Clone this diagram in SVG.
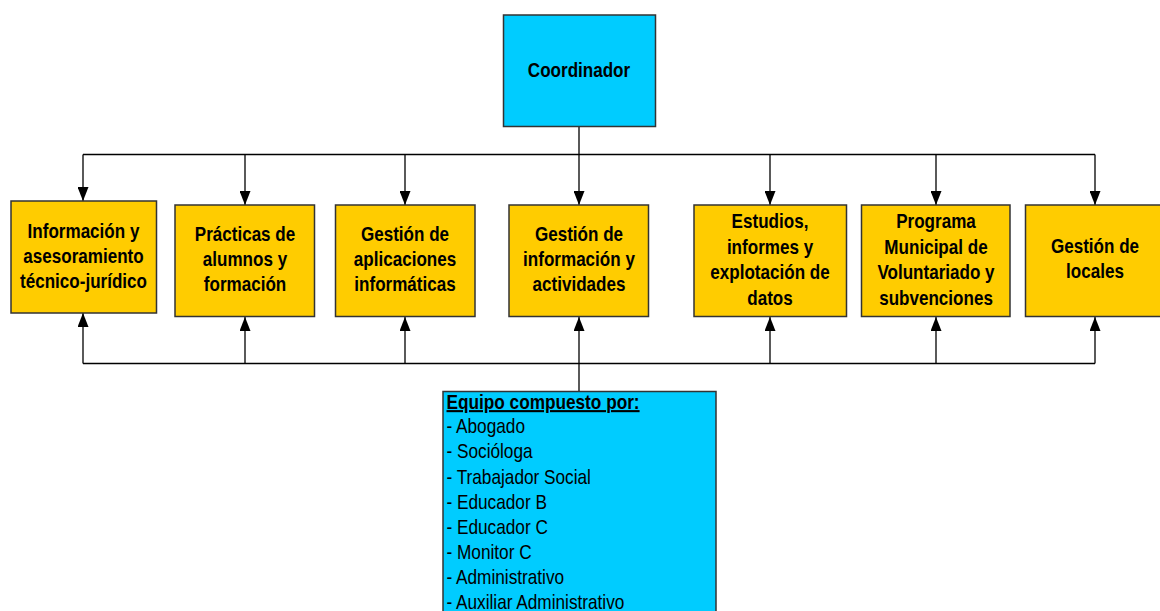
<svg xmlns="http://www.w3.org/2000/svg" width="1160" height="611" viewBox="0 0 1160 611">
<style>
.box{fill:#FFCC00;stroke:#333;stroke-width:1.5}
.cyan{fill:#00CCFF;stroke:#333;stroke-width:1.5}
.t{font-family:"Liberation Sans",Arial,sans-serif;font-weight:bold;font-size:20.8px;fill:#000;text-anchor:middle}
.r{font-family:"Liberation Sans",Arial,sans-serif;font-size:21px;fill:#000}
.c{fill:none;stroke:#000;stroke-width:1.3}
</style>
<defs>
<marker id="ah" viewBox="0 0 14 11" refX="14" refY="5.5" markerWidth="14" markerHeight="11" markerUnits="userSpaceOnUse" orient="auto">
<path d="M0,0 L14,5.5 L0,11 Z" fill="#000"/>
</marker>
</defs>
<rect width="1160" height="611" fill="#fff"/>
<g id="connectors">
<path class="c" d="M579,127 V154.5 M83,154.5 H1095"/>
<path class="c" d="M83,154.5 V201" marker-end="url(#ah)"/>
<path class="c" d="M245,154.5 V205" marker-end="url(#ah)"/>
<path class="c" d="M405,154.5 V205" marker-end="url(#ah)"/>
<path class="c" d="M579,154.5 V205" marker-end="url(#ah)"/>
<path class="c" d="M770,154.5 V205" marker-end="url(#ah)"/>
<path class="c" d="M936,154.5 V205" marker-end="url(#ah)"/>
<path class="c" d="M1095,154.5 V205" marker-end="url(#ah)"/>
<path class="c" d="M83,363.5 H1095"/>
<path class="c" d="M83,363.5 V313" marker-end="url(#ah)"/>
<path class="c" d="M245,363.5 V317" marker-end="url(#ah)"/>
<path class="c" d="M405,363.5 V317" marker-end="url(#ah)"/>
<path class="c" d="M579,391 V317" marker-end="url(#ah)"/>
<path class="c" d="M770,363.5 V317" marker-end="url(#ah)"/>
<path class="c" d="M936,363.5 V317" marker-end="url(#ah)"/>
<path class="c" d="M1095,363.5 V317" marker-end="url(#ah)"/>
</g>
<g id="coordinador">
<rect class="cyan" x="503.5" y="15" width="152" height="111.5"/>
<g transform="translate(579,0) scale(0.82,1)"><text class="t" x="0" y="77">Coordinador</text></g>
</g>
<g id="n1">
<rect class="box" x="11" y="201" width="145.5" height="112"/>
<g transform="translate(83.5,0) scale(0.82,1)">
<text class="t" x="0" y="238">Información y</text>
<text class="t" x="0" y="263">asesoramiento</text>
<text class="t" x="0" y="288">técnico-jurídico</text>
</g>
</g>
<g id="n2">
<rect class="box" x="175" y="205" width="139.5" height="111.5"/>
<g transform="translate(245,0) scale(0.82,1)">
<text class="t" x="0" y="241.5">Prácticas de</text>
<text class="t" x="0" y="266.5">alumnos y</text>
<text class="t" x="0" y="291.5">formación</text>
</g>
</g>
<g id="n3">
<rect class="box" x="335.5" y="205" width="139.5" height="111.5"/>
<g transform="translate(405,0) scale(0.82,1)">
<text class="t" x="0" y="241.5">Gestión de</text>
<text class="t" x="0" y="266.5">aplicaciones</text>
<text class="t" x="0" y="291.5">informáticas</text>
</g>
</g>
<g id="n4">
<rect class="box" x="509" y="205" width="139.5" height="111.5"/>
<g transform="translate(579,0) scale(0.82,1)">
<text class="t" x="0" y="241.5">Gestión de</text>
<text class="t" x="0" y="266.5">información y</text>
<text class="t" x="0" y="291.5">actividades</text>
</g>
</g>
<g id="n5">
<rect class="box" x="694" y="205" width="152.5" height="111.5"/>
<g transform="translate(770,0) scale(0.82,1)">
<text class="t" x="0" y="228.5">Estudios,</text>
<text class="t" x="0" y="254">informes y</text>
<text class="t" x="0" y="279.5">explotación de</text>
<text class="t" x="0" y="305">datos</text>
</g>
</g>
<g id="n6">
<rect class="box" x="861.5" y="205" width="148.5" height="111.5"/>
<g transform="translate(936,0) scale(0.82,1)">
<text class="t" x="0" y="228.5">Programa</text>
<text class="t" x="0" y="254">Municipal de</text>
<text class="t" x="0" y="279.5">Voluntariado y</text>
<text class="t" x="0" y="305">subvenciones</text>
</g>
</g>
<g id="n7">
<rect class="box" x="1025.5" y="205" width="145" height="111.5"/>
<g transform="translate(1095,0) scale(0.82,1)">
<text class="t" x="0" y="253">Gestión de</text>
<text class="t" x="0" y="278">locales</text>
</g>
</g>
<g id="equipo">
<rect class="cyan" x="443" y="391.5" width="273" height="230"/>
<g transform="translate(446.5,0) scale(0.82,1)">
<text class="r" x="0" y="409" font-weight="bold" text-decoration="underline">Equipo compuesto por:</text>
<text class="r" x="0" y="433.5">- Abogado</text>
<text class="r" x="0" y="458.5">- Socióloga</text>
<text class="r" x="0" y="484">- Trabajador Social</text>
<text class="r" x="0" y="509">- Educador B</text>
<text class="r" x="0" y="534">- Educador C</text>
<text class="r" x="0" y="559">- Monitor C</text>
<text class="r" x="0" y="584">- Administrativo</text>
<text class="r" x="0" y="609">- Auxiliar Administrativo</text>
</g>
</g>
</svg>
